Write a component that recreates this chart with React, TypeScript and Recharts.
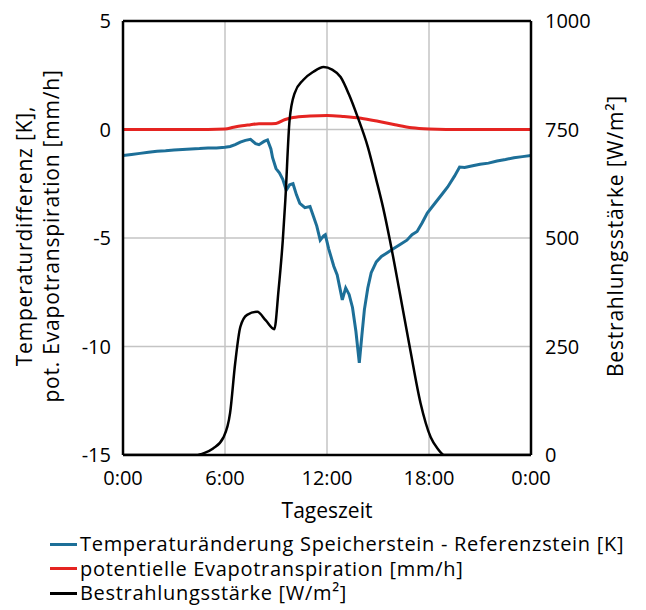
import React from 'react';
import { LineChart, Line, XAxis, YAxis, CartesianGrid, ReferenceLine } from 'recharts';

const timeTicks = [0, 6, 12, 18, 24];
const timeTickLabels = ['0:00', '6:00', '12:00', '18:00', '0:00'];
const leftTicks = [-15, -10, -5, 0, 5];
const rightTicks = [0, 250, 500, 750, 1000];

const seriesNames = [
  'Temperaturänderung Speicherstein - Referenzstein [K]',
  'potentielle Evapotranspiration [mm/h]',
  'Bestrahlungsstärke [W/m²]',
];

const tempHours = [0, 0.5, 1, 1.5, 2, 2.5, 3, 3.5, 4, 4.5, 5, 5.5, 6, 6.3, 6.6, 6.9, 7.2, 7.5, 7.8, 8, 8.3, 8.5, 8.7, 8.8, 9, 9.2, 9.4, 9.6, 9.8, 10, 10.2, 10.4, 10.7, 11, 11.2, 11.4, 11.6, 11.8, 11.9, 12.1, 12.4, 12.6, 12.9, 13.1, 13.3, 13.5, 13.7, 13.9, 14.05, 14.2, 14.4, 14.6, 14.9, 15.2, 15.5, 15.9, 16.3, 16.7, 17, 17.3, 17.6, 17.9, 18.2, 18.5, 18.8, 19.1, 19.5, 19.8, 20.1, 20.5, 21, 21.5, 22, 22.5, 23, 23.5, 24];
const tempValues = [-1.2, -1.15, -1.1, -1.05, -1.0, -0.98, -0.95, -0.92, -0.9, -0.88, -0.85, -0.85, -0.82, -0.78, -0.7, -0.58, -0.5, -0.45, -0.65, -0.7, -0.55, -0.48, -0.9, -1.3, -1.8, -2.0, -2.3, -2.8, -2.55, -2.5, -3.0, -3.4, -3.6, -3.55, -4.0, -4.45, -5.1, -4.9, -4.85, -5.5, -6.3, -6.7, -7.85, -7.3, -7.6, -8.2, -9.3, -10.75, -9.5, -8.3, -7.3, -6.6, -6.1, -5.85, -5.7, -5.5, -5.3, -5.1, -4.85, -4.7, -4.3, -3.85, -3.55, -3.25, -2.95, -2.65, -2.15, -1.73, -1.75, -1.68, -1.6, -1.55, -1.45, -1.38, -1.3, -1.25, -1.2];

const evapHours = [0, 5, 6, 6.5, 7, 7.5, 8, 8.5, 9, 9.5, 10, 11, 12, 13, 14, 15, 16, 17, 18, 19, 24];
const evapValues = [0, 0, 0.02, 0.1, 0.17, 0.22, 0.27, 0.26, 0.28, 0.45, 0.55, 0.62, 0.65, 0.6, 0.52, 0.38, 0.22, 0.08, 0.02, 0, 0];

const radHours = [0, 4.3, 4.8, 5.3, 5.9, 6.3, 6.6, 6.9, 7.3, 7.9, 8.4, 8.9, 9.15, 9.4, 9.55, 9.8, 10.1, 10.6, 11.2, 11.8, 12.3, 12.8, 13.3, 13.8, 14.4, 14.9, 15.3, 15.7, 16.3, 16.9, 17.5, 18.1, 18.5, 18.9, 24];
const radValues = [0, 0, 5, 15, 40, 97, 212, 295, 323, 330, 310, 290, 380, 495, 588, 772, 834, 864, 883, 894, 888, 871, 830, 779, 710, 634, 570, 495, 370, 242, 120, 41, 15, 0, 0];

const tempData = tempHours.map((t, i) => ({ t, v: tempValues[i] }));
const evapData = evapHours.map((t, i) => ({ t, v: evapValues[i] }));
const radData = radHours.map((t, i) => ({ t, v: radValues[i] }));

const BLUE = '#1d6f98';
const RED = '#e52421';
const BLACK = '#000000';
const colors = [BLUE, RED, BLACK];
const FONT = '"Open Sans", sans-serif';
const FS = 20;
const TITLE_FS = 21;

const LeftTitle = () => (
  <g fontFamily={FONT} fontSize={TITLE_FS} fill="#000" letterSpacing={0.8}>
    <text transform="translate(16,228) rotate(-90)" textAnchor="middle" dominantBaseline="central">Temperaturdifferenz [K],</text>
    <text transform="translate(43,228) rotate(-90)" textAnchor="middle" dominantBaseline="central">pot. Evapotranspiration [mm/h]</text>
  </g>
);

const RightTitle = () => (
  <g fontFamily={FONT} fontSize={TITLE_FS} fill="#000" letterSpacing={0.8}>
    <text transform="translate(607,228) rotate(-90)" textAnchor="middle" dominantBaseline="central">Bestrahlungsstärke [W/m²]</text>
  </g>
);

export default function App() {
  return (
    <div style={{ width: 638, fontFamily: FONT }}>
      <LineChart width={638} height={524} margin={{ top: 13, right: 0, bottom: 17, left: 0 }}>
        <CartesianGrid stroke="#c4c4c4" strokeWidth={1.5} yAxisId="left" />
        <XAxis
          dataKey="t"
          type="number"
          domain={[0, 24]}
          ticks={timeTicks}
          tickFormatter={(v: number) => timeTickLabels[timeTicks.indexOf(v)]}
          allowDataOverflow
          height={60}
          tickSize={0}
          tickMargin={16}
          tick={{ fill: '#000', fontSize: FS, fontFamily: FONT }}
          axisLine={{ stroke: '#000', strokeWidth: 2.5 }}
          label={{ value: 'Tageszeit', position: 'bottom', offset: -12, fill: '#000', fontSize: TITLE_FS, fontFamily: FONT }}
        />
        <YAxis
          yAxisId="left"
          domain={[-15, 5]}
          ticks={leftTicks}
          allowDataOverflow
          width={115}
          tickSize={0}
          tickMargin={12}
          tick={{ fill: '#000', fontSize: FS, fontFamily: FONT }}
          axisLine={{ stroke: '#000', strokeWidth: 2.5 }}
          label={<LeftTitle />}
        />
        <YAxis
          yAxisId="right"
          orientation="right"
          domain={[0, 1000]}
          ticks={rightTicks}
          allowDataOverflow
          width={115}
          tickSize={0}
          tickMargin={14}
          tick={{ fill: '#000', fontSize: FS, fontFamily: FONT }}
          axisLine={{ stroke: '#000', strokeWidth: 2.5 }}
          label={<RightTitle />}
        />
        <ReferenceLine yAxisId="left" y={5} stroke="#000" strokeWidth={2.5} />
        <Line yAxisId="left" data={tempData} dataKey="v" type="linear" stroke={BLUE} strokeWidth={3} dot={false} isAnimationActive={false} />
        <Line yAxisId="left" data={evapData} dataKey="v" type="monotone" stroke={RED} strokeWidth={3} dot={false} isAnimationActive={false} />
        <Line yAxisId="right" data={radData} dataKey="v" type="monotone" stroke={BLACK} strokeWidth={2.5} dot={false} isAnimationActive={false} />
      </LineChart>
      <div style={{ marginTop: 0, paddingLeft: 42, fontSize: 20, letterSpacing: 0.7, lineHeight: '24.5px', color: '#000' }}>
        {seriesNames.map((n, i) => (
          <div key={n} style={{ display: 'flex', alignItems: 'center', whiteSpace: 'nowrap' }}>
            <span style={{ display: 'inline-block', width: 27, height: 3, background: colors[i], marginRight: 3 }} />
            <span>{n}</span>
          </div>
        ))}
      </div>
    </div>
  );
}
